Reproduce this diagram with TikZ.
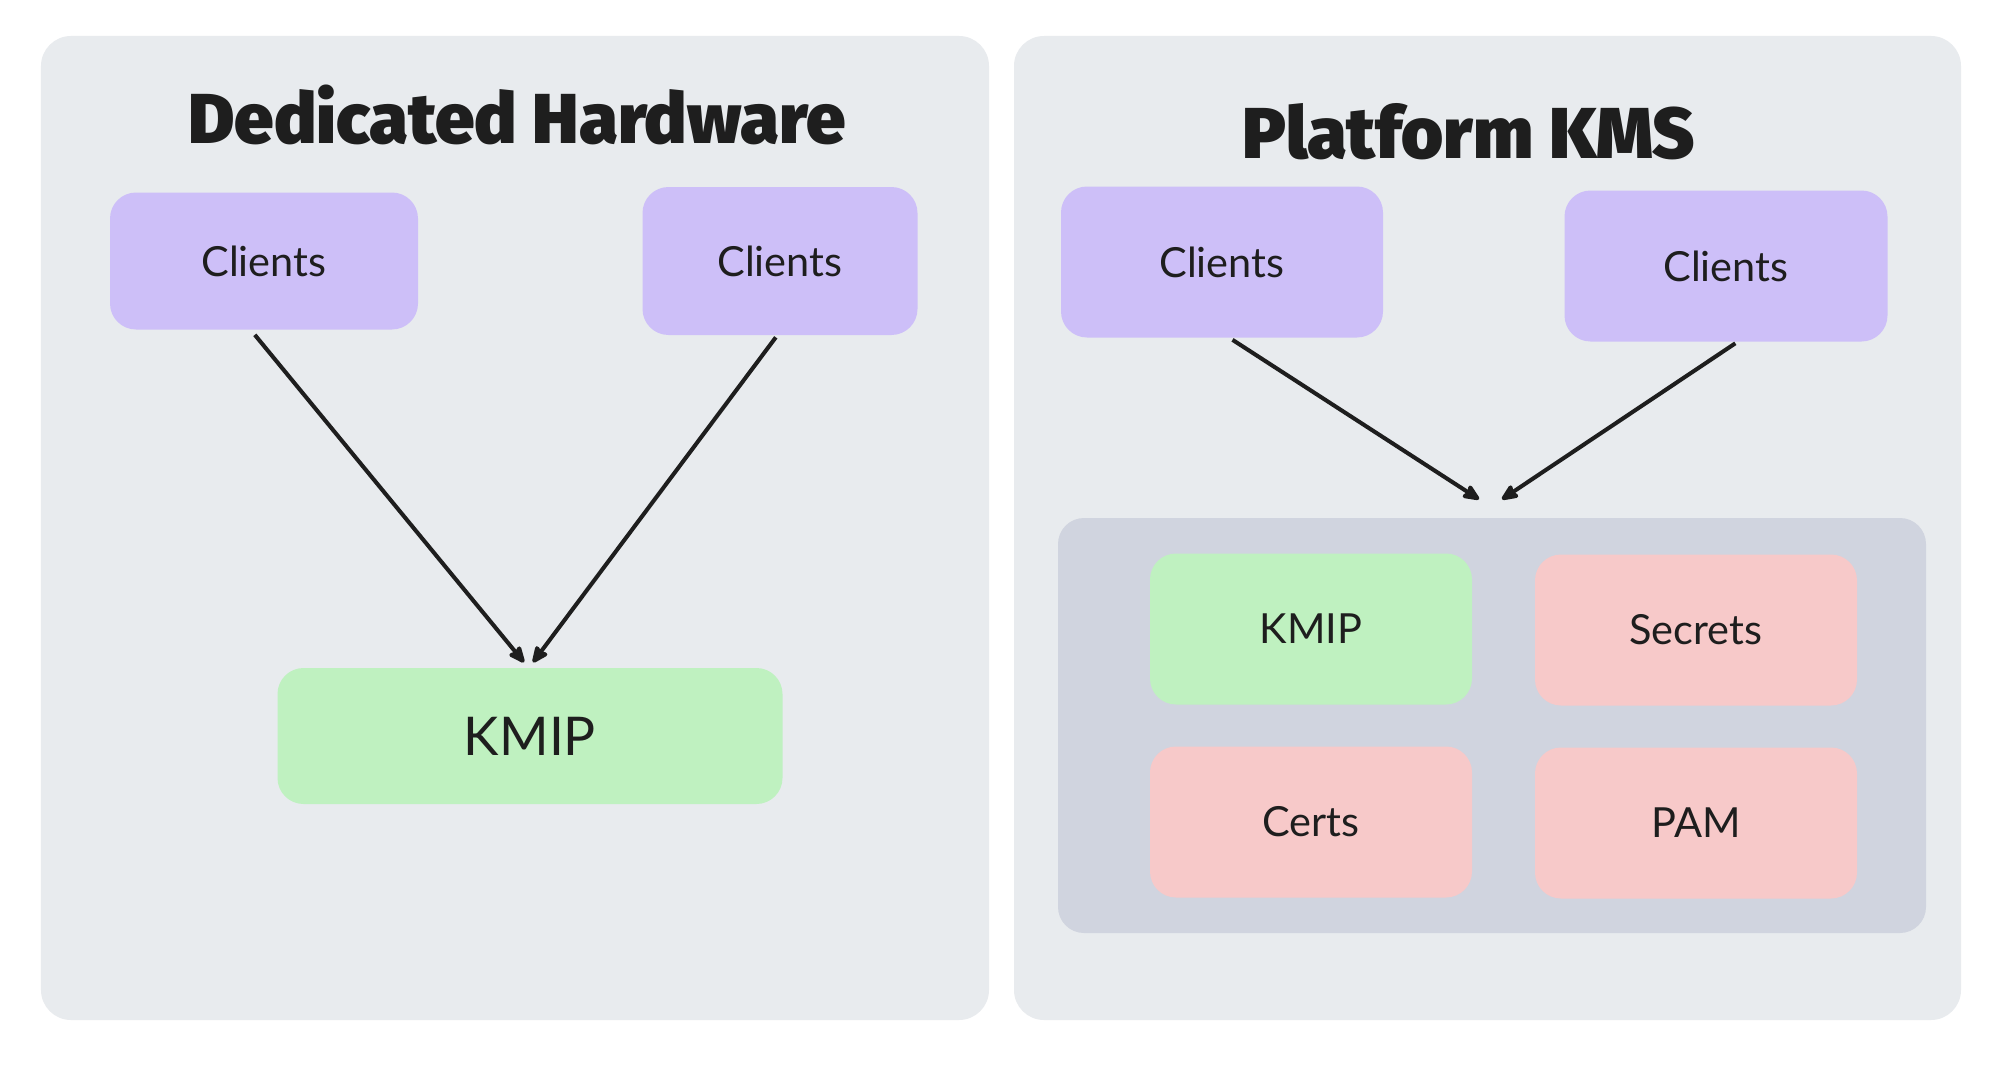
\documentclass[tikz,border=0pt]{standalone}
\usepackage{fontspec}
\usepackage{tikz}
\usetikzlibrary{arrows.meta}
\setmainfont{Lato}
\newfontfamily\titlefont{Fira Sans}[UprightFont=* Black]
\definecolor{panelgray}{HTML}{E8EBEE}
\definecolor{vaultgray}{HTML}{D0D4DF}
\definecolor{clientpurple}{HTML}{CDBFF8}
\definecolor{kmipgreen}{HTML}{BFF1C0}
\definecolor{otherred}{HTML}{F7C9C9}
\definecolor{ink}{HTML}{1E1E1E}
\tikzstyle{panel}=[rounded corners=0.3cm,fill=panelgray,inner sep=0pt]
\tikzstyle{box}=[rounded corners=0.26cm,inner sep=0pt,text=ink,font=\fontsize{11.8}{13}\selectfont]
\tikzstyle{line} = [draw=ink, line width=1.15pt, -{Stealth[length=0.2cm,width=0.17cm,inset=0.03cm,round]}]

\begin{document}
\begin{tikzpicture}
  \tikzstyle{title}=[anchor=base,text=ink,font=\titlefont\fontsize{20.1}{24}\selectfont]

  \useasboundingbox (0,0) rectangle (19.99,-10.68);
  \fill[white] (0,0) rectangle (19.99,-10.68);

  % panels
  \node[panel,minimum width=9.48cm,minimum height=9.84cm] (panelL) at (5.15,-5.28) {};
  \node[panel,minimum width=9.47cm,minimum height=9.84cm] (panelR) at (14.875,-5.28) {};
  \node[title] (titleL) at (5.17,-1.43) {Dedicated Hardware};
  \node[title,font=\titlefont\fontsize{20.5}{24}\selectfont] (titleR) at (14.69,-1.58) {Platform KMS};

  % dedicated hardware
  \node[box,fill=clientpurple,minimum width=3.08cm,minimum height=1.37cm] (clientsA) at (2.64,-2.61) {Clients};
  \node[box,fill=clientpurple,minimum width=2.75cm,minimum height=1.48cm] (clientsB) at (7.80,-2.61) {Clients};
  \node[box,fill=kmipgreen,minimum width=5.05cm,minimum height=1.36cm,font=\fontsize{15.2}{18}\selectfont] (kmipL) at (5.30,-7.36) {KMIP};

  \draw[line,shorten <=0.06cm] ([xshift=-0.13cm]clientsA.south) -- ([xshift=-0.06cm,yshift=0.05cm]kmipL.north);
  \draw[line,shorten <=0.02cm] ([xshift=-0.03cm]clientsB.south) -- ([xshift=0.03cm,yshift=0.05cm]kmipL.north);

  % platform kms
  \node[box,fill=clientpurple,minimum width=3.22cm,minimum height=1.51cm] (clientsC) at (12.22,-2.62) {Clients};
  \node[box,fill=clientpurple,minimum width=3.23cm,minimum height=1.51cm] (clientsD) at (17.26,-2.66) {Clients};
  \node[panel,fill=vaultgray,rounded corners=0.26cm,minimum width=8.68cm,minimum height=4.15cm] (vault) at (14.92,-7.255) {};
  \node[box,fill=kmipgreen,minimum width=3.22cm,minimum height=1.51cm] (kmipR) at (13.11,-6.29) {KMIP};
  \node[box,fill=otherred,minimum width=3.22cm,minimum height=1.51cm] (secrets) at (16.96,-6.30) {Secrets};
  \node[box,fill=otherred,minimum width=3.22cm,minimum height=1.51cm] (certs) at (13.11,-8.22) {Certs};
  \node[box,fill=otherred,minimum width=3.22cm,minimum height=1.51cm] (pam) at (16.96,-8.23) {PAM};

  \draw[line,shorten <=0.03cm] ([xshift=0.08cm]clientsC.south) -- ([xshift=-0.13cm,yshift=0.18cm]vault.north);
  \draw[line,shorten <=0.02cm] ([xshift=0.11cm]clientsD.south) -- ([xshift=0.10cm,yshift=0.18cm]vault.north);
\end{tikzpicture}
\end{document}
